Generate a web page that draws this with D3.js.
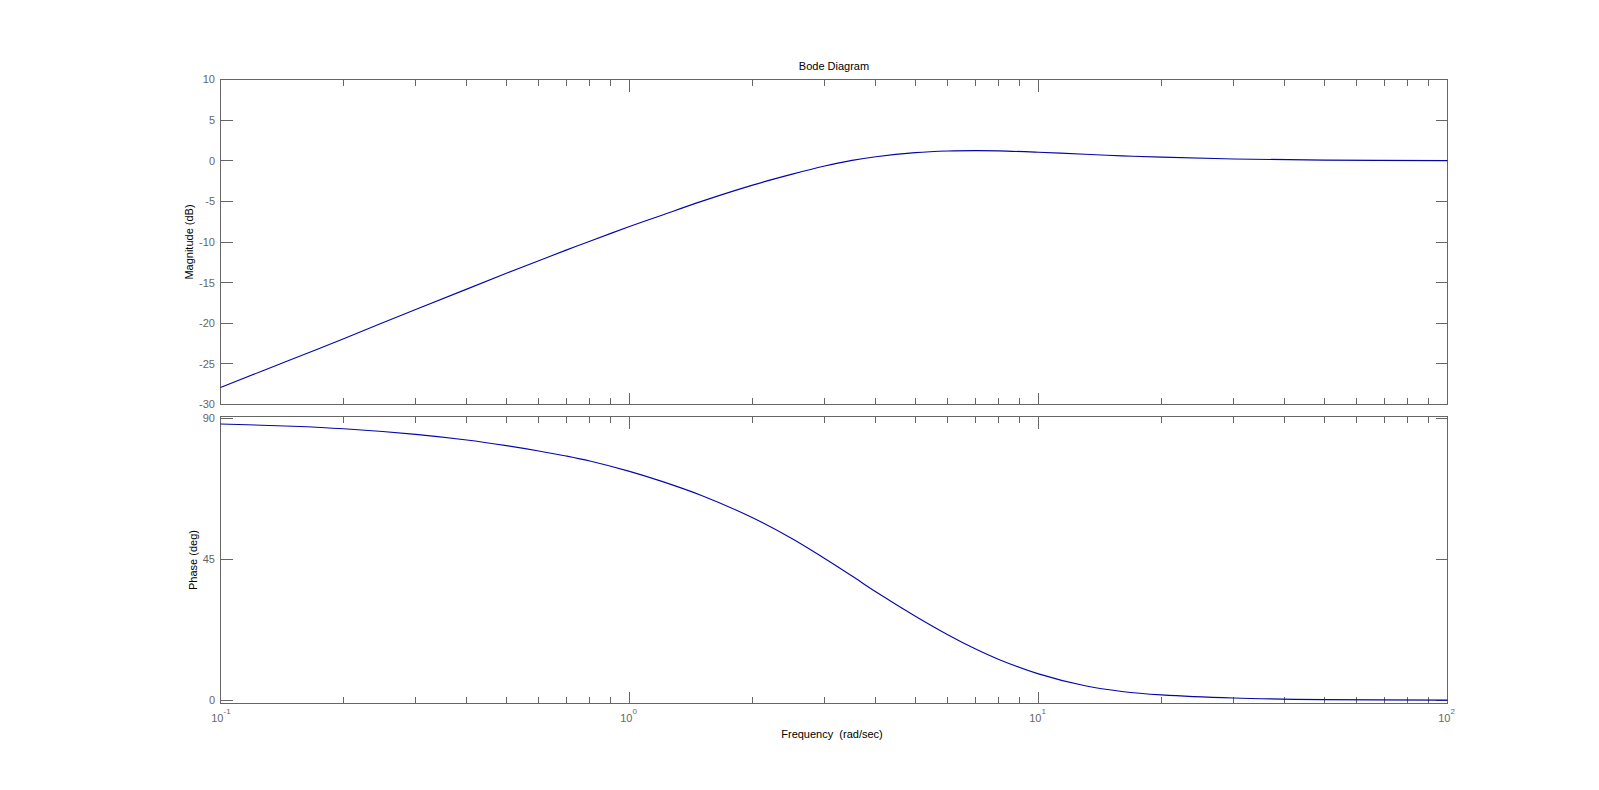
<!DOCTYPE html>
<html>
<head>
<meta charset="utf-8">
<script src="https://cdn.jsdelivr.net/npm/d3@7"></script>
<style>
  html, body { margin: 0; padding: 0; background: #fff; }
  svg { display: block; }
  text { font-family: "Liberation Sans", Arial, Helvetica, sans-serif; }
</style>
</head>
<body>
<svg id="chart" width="1599" height="790"></svg>
<script>
// ---- data ----
const freq = [0.1, 0.15, 0.2, 0.3, 0.4, 0.5, 0.6, 0.7, 0.8, 1.0,
              1.2, 1.5, 2.0, 2.5, 3.0, 3.5, 4.0, 5.0, 6.0, 7.0, 8.0,
              10, 13, 16, 20, 30, 50, 100];
const magDb = [-27.9, -24.4, -21.9, -18.3, -15.8, -13.85, -12.3, -11.0, -9.9, -8.1,
               -6.7, -5.0, -3.0, -1.65, -0.65, 0.05, 0.5, 1.0, 1.2, 1.25, 1.22,
               1.05, 0.8, 0.6, 0.45, 0.22, 0.08, 0.02];
const phaseDeg = [88.1, 87.4, 86.6, 84.8, 83.0, 81.2, 79.5, 77.9, 76.3, 73.0,
                  69.8, 65.3, 58.2, 51.5, 45.2, 39.6, 34.6, 26.8, 20.9, 16.4, 13.0,
                  8.4, 4.6, 2.8, 1.7, 0.7, 0.2, 0.03];
const magTicks = [10, 5, 0, -5, -10, -15, -20, -25, -30];
const phaseTicks = [90, 45, 0];
const majorFreq = [0.1, 1, 10, 100];
const majorExp = ["-1", "0", "1", "2"];
const titleText = "Bode Diagram";
const magLabel = "Magnitude (dB)";
const phaseLabel = "Phase (deg)";
const xLabel = "Frequency  (rad/sec)";

// ---- layout ----
const axColor = "#666666";
const lineColor = "#0505aa";
const svg = d3.select("#chart");
const x = d3.scaleLog().domain([0.1, 100]).range([220.5, 1447.5]);
const yMag = d3.scaleLinear().domain([-30, 10]).range([404.5, 79.5]);
const yPh = d3.scaleLinear().domain([-1.05, 90.5]).range([703.5, 416.5]);

const minorFreq = [];
for (let d = 0.1; d < 100; d *= 10) {
  for (let k = 2; k <= 9; k++) minorFreq.push(+(d * k).toPrecision(3));
}

function drawAxes(y, yTicks) {
  const [x0, x1] = x.range();
  const [yb, yt] = y.range();
  const g = svg.append("g").attr("shape-rendering", "crispEdges")
    .attr("stroke", axColor).attr("stroke-width", 1).attr("fill", "none");
  minorFreq.forEach(f => {
    const px = Math.round(x(f) - 0.5) + 0.5;
    g.append("line").attr("x1", px).attr("x2", px).attr("y1", yt).attr("y2", yt + 6.5);
    g.append("line").attr("x1", px).attr("x2", px).attr("y1", yb).attr("y2", yb - 6.5);
  });
  majorFreq.forEach(f => {
    const px = Math.round(x(f) - 0.5) + 0.5;
    g.append("line").attr("x1", px).attr("x2", px).attr("y1", yt).attr("y2", yt + 12);
    g.append("line").attr("x1", px).attr("x2", px).attr("y1", yb).attr("y2", yb - 12);
  });
  yTicks.forEach(v => {
    const py = Math.round(y(v) - 0.5) + 0.5;
    g.append("line").attr("x1", x0).attr("x2", x0 + 12).attr("y1", py).attr("y2", py);
    g.append("line").attr("x1", x1).attr("x2", x1 - 12).attr("y1", py).attr("y2", py);
  });
  g.append("rect").attr("x", x0).attr("y", yt).attr("width", x1 - x0).attr("height", yb - yt);
  svg.append("g").selectAll("text").data(yTicks).join("text")
    .attr("x", x0 - 5.5).attr("y", d => y(d)).attr("dy", "0.36em")
    .attr("text-anchor", "end").attr("font-size", 11).attr("fill", axColor)
    .text(d => d);
}

drawAxes(yMag, magTicks);
drawAxes(yPh, phaseTicks);

const curve = d3.curveCatmullRom.alpha(0.5);
const magLine = d3.line().x((d, i) => x(freq[i])).y(d => yMag(d)).curve(curve);
const phLine = d3.line().x((d, i) => x(freq[i])).y(d => yPh(d)).curve(curve);
svg.append("path").attr("d", magLine(magDb)).attr("fill", "none")
  .attr("stroke", lineColor).attr("stroke-width", 1.1);
svg.append("path").attr("d", phLine(phaseDeg)).attr("fill", "none")
  .attr("stroke", lineColor).attr("stroke-width", 1.1);

majorFreq.forEach((f, i) => {
  const px = x(f);
  svg.append("text").attr("x", px + 3).attr("y", 721.5).attr("text-anchor", "end")
    .attr("font-size", 11).attr("fill", axColor).text("10");
  svg.append("text").attr("x", px + 3).attr("y", 713.5).attr("text-anchor", "start")
    .attr("font-size", 8).attr("fill", axColor).text(majorExp[i]);
});

const cx = (x.range()[0] + x.range()[1]) / 2;
svg.append("text").attr("x", cx).attr("y", 70).attr("text-anchor", "middle")
  .attr("font-size", 11).attr("fill", "#000").text(titleText);
svg.append("text").attr("x", cx - 2).attr("y", 738).attr("text-anchor", "middle")
  .attr("font-size", 11).attr("fill", "#000").style("white-space", "pre").text(xLabel);
svg.append("text").attr("transform", `translate(193,${(yMag.range()[0] + yMag.range()[1]) / 2}) rotate(-90)`)
  .attr("text-anchor", "middle").attr("font-size", 11).attr("fill", "#000").text(magLabel);
svg.append("text").attr("transform", `translate(196.5,${(yPh.range()[0] + yPh.range()[1]) / 2}) rotate(-90)`)
  .attr("text-anchor", "middle").attr("font-size", 11).attr("fill", "#000").text(phaseLabel);
</script>
</body>
</html>
